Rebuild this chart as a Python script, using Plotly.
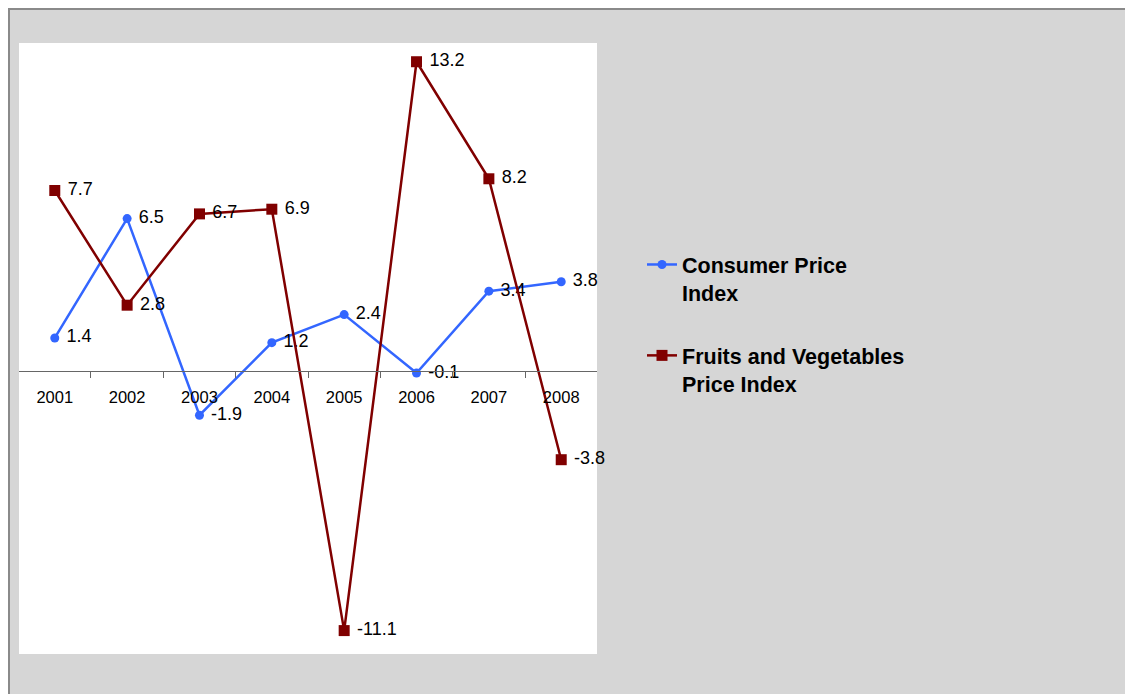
import plotly.graph_objects as go

years = ["2001", "2002", "2003", "2004", "2005", "2006", "2007", "2008"]
cpi = [1.4, 6.5, -1.9, 1.2, 2.4, -0.1, 3.4, 3.8]
fvpi = [7.7, 2.8, 6.7, 6.9, -11.1, 13.2, 8.2, -3.8]
cpi_name = "Consumer Price<br>Index"
fvpi_name = "Fruits and Vegetables<br>Price Index"

# page body has an 8px margin, so figure coords = screen coords - 8
OFF = 8
W, H = 1133 - OFF, 694 - OFF
L, R, T, B = 19 - OFF, 597 - OFF, 43 - OFF, 654 - OFF
pw, ph = R - L, B - T
YMIN, YMAX = -12.1, 14.0

def px_x(p):
    return (p - OFF - L) / pw

def px_y(p):
    return (B - (p - OFF)) / ph

font = "Arial, Liberation Sans, sans-serif"
BG = "#d6d6d6"
NB = "\u00a0"

fig = go.Figure()
fig.add_trace(go.Scatter(
    x=years, y=cpi, name=cpi_name, mode="lines+markers+text",
    text=[f"{NB}{v}" for v in cpi], textposition="middle right",
    textfont=dict(size=18, color="black", family=font),
    line=dict(color="#3366ff", width=2.5),
    marker=dict(symbol="circle", size=9, color="#3366ff"),
    legendgroup="a", cliponaxis=False,
))
fig.add_trace(go.Scatter(
    x=years, y=fvpi, name=fvpi_name, mode="lines+markers+text",
    text=[f"{NB}{v}" for v in fvpi], textposition="middle right",
    textfont=dict(size=18, color="black", family=font),
    line=dict(color="#800000", width=2.5),
    marker=dict(symbol="square", size=11, color="#800000"),
    legendgroup="b", cliponaxis=False,
))

shapes = [
    dict(type="line", xref="paper", yref="paper", x0=px_x(9), x1=px_x(9),
         y0=px_y(700), y1=px_y(8), line=dict(color="#8a8a8a", width=2)),
    dict(type="line", xref="paper", yref="paper", x0=px_x(8), x1=px_x(1140),
         y0=px_y(9), y1=px_y(9), line=dict(color="#8a8a8a", width=2)),
]

fig.update_layout(
    width=W, height=H,
    margin=dict(l=L, r=W - R, t=T, b=H - B, pad=0),
    paper_bgcolor=BG, plot_bgcolor="white",
    font=dict(family=font, color="black"),
    showlegend=True,
    legend=dict(
        x=px_x(642), y=px_y(244), xanchor="left", yanchor="top",
        bgcolor="rgba(0,0,0,0)", font=dict(size=21.5, family=font, color="black", weight="bold"),
        traceorder="grouped", tracegroupgap=32, valign="top", itemwidth=30,
    ),
    xaxis=dict(
        type="category", anchor="free",
        position=(0 - YMIN) / (YMAX - YMIN),
        showline=True, linecolor="#666666", linewidth=1,
        ticks="outside", tickson="boundaries", ticklen=6, tickcolor="#666666",
        showgrid=False, zeroline=False,
        tickfont=dict(size=16.5, family=font, color="black"),
        ticklabelstandoff=11,
    ),
    yaxis=dict(
        range=[YMIN, YMAX], showgrid=False, zeroline=False, showline=False,
        showticklabels=False, ticks="",
    ),
    shapes=shapes,
)

fig.write_html("out.html")
